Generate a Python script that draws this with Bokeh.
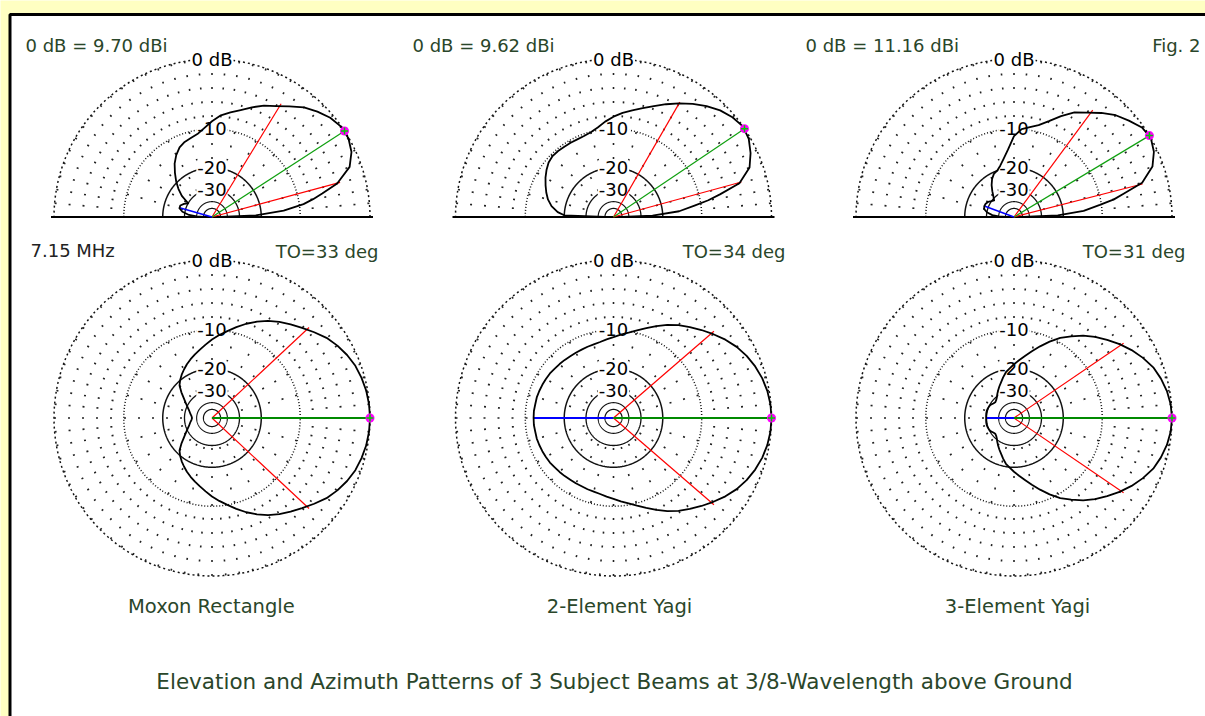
import math
from bokeh.plotting import figure
from bokeh.models import Range1d
from bokeh.core.properties import value
from bokeh.embed import file_html
from bokeh.resources import INLINE

# ---------------- data ----------------
antenna_names = ["Moxon  Rectangle", "2-Element Yagi", "3-Element Yagi"]
zero_db_labels = ["0 dB = 9.70 dBi", "0 dB = 9.62 dBi", "0 dB = 11.16 dBi"]
takeoff_labels = ["TO=33 deg", "TO=34 deg", "TO=31 deg"]
takeoff_deg = [33, 34, 31]
freq_label = "7.15 MHz"
fig_label = "Fig. 2"
title_text = "Elevation and Azimuth Patterns of 3 Subject Beams at 3/8-Wavelength above Ground"
ring_db = [0, -10, -20, -30, -40, -50]
ring_label_db = [0, -10, -20, -30]
ring_labels = ["0 dB", "-10", "-20", "-30"]

# elevation patterns (dB relative to max) vs elevation angle (deg)
elev_deg = [0, 2, 5, 8, 10, 12, 15, 20, 25, 30, 35, 40, 45, 50, 55, 60, 65, 70, 75, 80,
            85, 90, 95, 100, 105, 110, 115, 120, 125, 130, 135, 140, 145, 150, 155, 160,
            165, 170, 175, 178, 180]
elev_moxon = [-50, -22, -13.5, -9.2, -7.4, -5.8, -3.4, -1.3, -0.45, -0.05, -0.05, -0.4, -1.0,
              -1.7, -2.7, -3.6, -4.3, -5.2, -6.1, -6.8, -7.5, -8.6, -9.8, -10.8, -11.3, -11.7,
              -12.4, -13.6, -15.2, -17.3, -19.5, -22.0, -25.0, -30.0, -28.0, -26.5, -26.5,
              -28.5, -33.0, -40.0, -50.0]
elev_yagi2 = [-50, -24, -15, -11.3, -8.5, -6.4, -3.3, -1.5, -0.75, -0.2, 0, -0.3, -0.8, -1.5,
              -2.3, -3.2, -4.1, -5.0, -5.8, -6.5, -7.1, -7.8, -8.6, -9.5, -10.1, -10.4, -10.5,
              -10.5, -10.5, -10.4, -10.4, -10.7, -11.3, -12.0, -12.8, -13.6, -14.5, -15.8,
              -17.8, -20.0, -50]
elev_yagi3 = [-50, -22, -14, -10.3, -7.6, -5.9, -3.0, -1.2, -0.4, 0, -0.2, -0.9, -1.6, -2.6,
              -3.7, -4.6, -6.0, -7.5, -8.7, -9.4, -10.0, -11.5, -14.5, -16.8, -18.7, -20.0,
              -20.6, -22.0, -24.0, -26.5, -29.0, -31.0, -30.0, -28.5, -27.8, -27.6, -28.0,
              -30.0, -34.0, -40.0, -50]

# azimuth patterns (symmetric about boresight) vs azimuth angle 0..180 deg
az_deg = [0, 5, 10, 15, 20, 25, 30, 35, 40, 45, 50, 55, 60, 65, 70, 75, 80, 85, 90, 95, 100,
          105, 110, 115, 120, 125, 130, 135, 140, 145, 150, 155, 160, 165, 170, 175, 180]
az_moxon = [0, -0.04, -0.15, -0.35, -0.6, -1.0, -1.5, -2.1, -2.9, -3.7, -4.4, -5.1, -5.9, -6.8,
            -7.8, -8.9, -10.0, -11.0, -12.0, -13.1, -14.1, -15.0, -15.9, -16.8, -17.8, -18.8,
            -19.9, -21.2, -23.6, -26.2, -28.3, -30.2, -31.8, -33.0, -34.0, -35.0, -35.5]
az_yagi2 = [0, -0.05, -0.2, -0.45, -0.8, -1.25, -1.8, -2.5, -3.3, -4.1, -4.9, -5.7, -6.6, -7.6,
            -8.6, -9.5, -10.3, -10.9, -11.5, -11.9, -12.3, -12.5, -12.6, -12.7, -12.7, -12.7,
            -12.6, -12.5, -12.4, -12.2, -12.1, -12.0, -11.9, -11.8, -11.8, -11.7, -11.7]
az_yagi3 = [0, -0.08, -0.3, -0.65, -1.1, -1.8, -2.6, -3.5, -4.5, -5.5, -6.6, -7.9, -9.2, -10.8,
            -12.5, -14.2, -15.8, -17.2, -18.5, -19.8, -21.0, -22.7, -24.5, -26.0, -27.5, -29.0,
            -30.5, -31.5, -32.0, -31.5, -30.5, -30.0, -29.8, -29.6, -29.6, -29.7, -29.8]

elev_patterns = [elev_moxon, elev_yagi2, elev_yagi3]
az_patterns = [az_moxon, az_yagi2, az_yagi3]

# -3 dB beamwidth points (deg)
elev_bw_low = [15.1, 15.3, 14.4]
elev_bw_high = [58.6, 60.0, 53.6]
az_bw_half = [43.0, 40.8, 34.3]
# rear-lobe markers (angle deg, dB); None = not shown
elev_rear = [(164, -26.5), None, (159.7, -27.6)]
az_rear = [None, (180, -11.7), (180, -29.8)]

# ---------------- layout / style ----------------
CX = [211.5, 613.0, 1013.5]
EL_Y = 216.5
AZ_Y = 417.5
R = 158.0
W, H = 1205, 716
YELLOW = "#FFFFC2"
TXT_GREEN = "#2a462a"
FONT = value("DejaVu Sans")


def rad(db):
    return R * 0.89 ** (-db / 2.0)


def pt(cx, cy, r, deg):
    a = math.radians(deg)
    return cx + r * math.cos(a), cy - r * math.sin(a)


p = figure(width=W, height=H, x_range=Range1d(0, W), y_range=Range1d(H, 0),
           x_axis_type=None, y_axis_type=None, toolbar_location=None,
           output_backend="svg", min_border=0, outline_line_color=None,
           background_fill_color=YELLOW, border_fill_color=YELLOW)

# white panel with black frame
p.quad(left=[9.5], right=[1400], top=[14], bottom=[1000], fill_color="white",
       line_color="black", line_width=3)

ring_style = {0: ("2 3", 1.5), -10: ("1 2", 1.5), -20: ("solid", 1.5),
              -30: ("solid", 1.3), -40: ("solid", 1.1), -50: ("solid", 1.2)}


def draw_grid(cx, cy, full):
    amax = 360 if full else 180
    for db in ring_db:
        r = rad(db)
        n = 361 if full else 181
        xs, ys = [], []
        for i in range(n):
            x, y = pt(cx, cy, r, i * amax / (n - 1))
            xs.append(x)
            ys.append(y)
        dash, lw = ring_style[db]
        p.line(xs, ys, line_color="#111111", line_width=lw, line_dash=dash)
    sx, sy = [], []
    last = 355 if full else 180
    for a in range(0, last + 1, 5):
        inner = rad(-30) if a % 15 == 0 else rad(-10)
        x0, y0 = pt(cx, cy, R, a)
        x1, y1 = pt(cx, cy, inner, a)
        sx.append([x0, x1])
        sy.append([y0, y1])
    p.multi_line(sx, sy, line_color="#222222", line_width=1.6, line_dash="2 12")
    # ring labels
    lx = [cx] * len(ring_label_db)
    ly = [cy - rad(d) for d in ring_label_db]
    p.text(x=lx, y=ly, text=ring_labels, text_font=FONT, text_font_size=value("18px"),
           text_align="center", text_baseline="middle", text_color="black",
           background_fill_color="white", padding=1)


def draw_pattern(cx, cy, degs, dbs):
    xs, ys = [], []
    for a, d in zip(degs, dbs):
        x, y = pt(cx, cy, rad(d), a)
        xs.append(x)
        ys.append(y)
    p.line(xs, ys, line_color="black", line_width=1.8, line_join="round")


def draw_marker(x, y):
    p.scatter([x], [y], marker="circle", size=9, fill_color="#ff00ff", line_color=None)
    p.scatter([x], [y], marker="cross", size=7, line_color="#00cc00", line_width=1.5)


for i in range(3):
    cx = CX[i]
    # ---- elevation ----
    draw_grid(cx, EL_Y, False)
    p.line([cx - R - 3, cx + R + 3], [EL_Y, EL_Y], line_color="black", line_width=2)
    for a in (elev_bw_low[i], elev_bw_high[i]):
        x, y = pt(cx, EL_Y, rad(-3), a)
        p.line([cx, x], [EL_Y, y], line_color="#ff0000", line_width=1.2)
    xg, yg = pt(cx, EL_Y, R, takeoff_deg[i])
    p.line([cx, xg], [EL_Y, yg], line_color="#10a010", line_width=1.2)
    if elev_rear[i] is not None:
        xb, yb = pt(cx, EL_Y, rad(elev_rear[i][1]), elev_rear[i][0])
        p.line([cx, xb], [EL_Y, yb], line_color="#0000ff", line_width=1.5)
    draw_pattern(cx, EL_Y, elev_deg, elev_patterns[i])
    draw_marker(xg, yg)

    # ---- azimuth ----
    draw_grid(cx, AZ_Y, True)
    for s in (1, -1):
        x, y = pt(cx, AZ_Y, rad(-3), s * az_bw_half[i])
        p.line([cx, x], [AZ_Y, y], line_color="#ff0000", line_width=1.2)
    if az_rear[i] is not None:
        xb, yb = pt(cx, AZ_Y, rad(az_rear[i][1]), az_rear[i][0])
        p.line([cx, xb], [AZ_Y, yb], line_color="#0000ff", line_width=2)
    xg, yg = pt(cx, AZ_Y, R, 0)
    p.line([cx, xg], [AZ_Y, yg], line_color="#008a00", line_width=2)
    full_deg = az_deg + [360 - a for a in reversed(az_deg[:-1])]
    full_db = az_patterns[i] + list(reversed(az_patterns[i][:-1]))
    draw_pattern(cx, AZ_Y, full_deg, full_db)
    draw_marker(xg, yg)

# ---------------- texts ----------------
p.text(x=[25, 412, 805], y=[44.5] * 3, text=zero_db_labels, text_font=FONT,
       text_font_size=value("18px"), text_align="left", text_baseline="alphabetic",
       text_color=TXT_GREEN)
p.text(x=[1200], y=[44.5], text=[fig_label], text_font=FONT, text_font_size=value("18px"),
       text_align="right", text_baseline="alphabetic", text_color=TXT_GREEN)
p.text(x=[30], y=[250], text=[freq_label], text_font=FONT, text_font_size=value("18px"),
       text_align="left", text_baseline="alphabetic", text_color="#222222")
p.text(x=[378, 785, 1185], y=[251] * 3, text=takeoff_labels, text_font=FONT,
       text_font_size=value("18px"), text_align="right", text_baseline="alphabetic",
       text_color=TXT_GREEN)
p.text(x=[214, 619, 1017], y=[606] * 3, text=antenna_names, text_font=FONT,
       text_font_size=value("19.5px"), text_align="center", text_baseline="alphabetic",
       text_color=TXT_GREEN)
p.text(x=[614], y=[681], text=[title_text], text_font=FONT, text_font_size=value("21.5px"),
       text_align="center", text_baseline="alphabetic", text_color=TXT_GREEN)

open("out.html", "w").write(file_html(p, INLINE))
